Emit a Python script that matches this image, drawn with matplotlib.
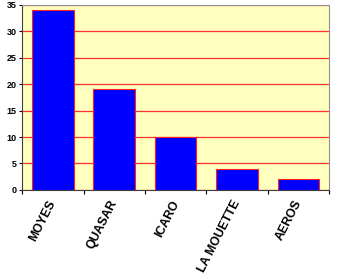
import matplotlib
matplotlib.use('Agg')
import matplotlib.pyplot as plt
import matplotlib.transforms as mtransforms
import numpy as np

brands = ['MOYES', 'QUASAR', 'ICARO', 'LA MOUETTE', 'AEROS']
counts = [34, 19, 10, 4, 2]

plt.rcParams['font.family'] = ['Liberation Sans', 'DejaVu Sans']

fig = plt.figure(figsize=(3.4, 2.74), dpi=100)
ax = fig.add_axes([0.065, 0.307, 0.903, 0.675])
ax.set_facecolor('#ffffc0')

x = np.arange(len(brands))
ax.bar(x, counts, 0.68, color='#0000ff', edgecolor='#ff2020', linewidth=0.8, zorder=3)

ax.set_xlim(-0.5, len(brands) - 0.5)
ax.set_ylim(0, 35)
ax.set_yticks(range(0, 36, 5))
ax.yaxis.grid(True, color='#ff3030', linewidth=0.9, zorder=1)
ax.tick_params(axis='y', labelsize=6.5, length=2, pad=2, width=0.8)
for lbl in ax.get_yticklabels():
    lbl.set_fontweight('bold')

ax.set_xticks(np.arange(len(brands) + 1) - 0.5, minor=True)
ax.set_xticks(x)
ax.set_xticklabels(brands, rotation=63, ha='right', rotation_mode='anchor',
                   fontsize=8.8, fontweight='bold')
ax.tick_params(axis='x', which='major', length=0, pad=6)
ax.tick_params(axis='x', which='minor', length=3, width=0.8, direction='out')
shift = mtransforms.ScaledTranslation(-5 / 100, 0, fig.dpi_scale_trans)
for lbl in ax.get_xticklabels():
    lbl.set_transform(lbl.get_transform() + shift)

for side in ['top', 'right']:
    ax.spines[side].set_color('#909090')
for side in ['left', 'bottom']:
    ax.spines[side].set_color('#404040')

fig.savefig('out.png', dpi=100)
